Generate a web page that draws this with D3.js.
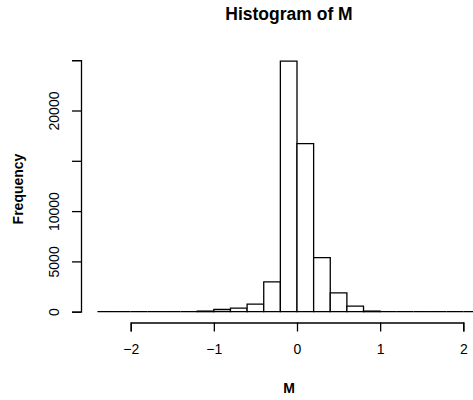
<!DOCTYPE html>
<html>
<head>
<meta charset="utf-8">
<script src="https://cdn.jsdelivr.net/npm/d3@7"></script>
<style>
  html, body { margin: 0; padding: 0; background: #fff; }
  svg { display: block; }
  text { font-family: "Liberation Sans", Arial, Helvetica, sans-serif; fill: #000; }
</style>
</head>
<body>
<svg id="chart" width="473" height="400"></svg>
<script>
// Histogram bin lower edges (width 0.2) and counts
const binStarts = [-2.4,-2.2,-2.0,-1.8,-1.6,-1.4,-1.2,-1.0,-0.8,-0.6,-0.4,-0.2,0.0,0.2,0.4,0.6,0.8,1.0,1.2,1.4,1.6,1.8,2.0];
const binWidth = 0.2;
const counts = [0,0,0,0,0,0,60,220,350,750,2960,24900,16700,5380,1870,550,60,0,0,0,0,0,0];
const xTicks = [-2,-1,0,1,2];
const xTickLabels = ["\u22122","\u22121","0","1","2"];
const yTicks = [0,5000,10000,15000,20000,25000];
const yLabeled = [0,5000,10000,20000];
const title = "Histogram of M";
const xLabel = "M";
const yLabel = "Frequency";

const svg = d3.select("#chart");
const x = d3.scaleLinear().domain([-2, 2]).range([130.7, 463.3]);
const y = d3.scaleLinear().domain([0, 25000]).range([311.7, 60.2]);

// Bars (paths so that empty bins still draw as a baseline segment)
svg.append("g").selectAll("path")
  .data(binStarts.map((s, i) => ({s, c: counts[i]})))
  .join("path")
  .attr("d", d => {
    const x0 = x(d.s), x1 = x(d.s + binWidth), y0 = y(0), y1 = y(d.c);
    return `M${x0},${y0}V${y1}H${x1}V${y0}Z`;
  })
  .attr("fill", "#fff")
  .attr("stroke", "#000")
  .attr("stroke-width", 1.3);

// X axis
const xAxis = d3.axisBottom(x).tickValues(xTicks)
  .tickFormat((d, i) => xTickLabels[i]).tickSizeOuter(0).tickSize(9).tickPadding(13);
const gx = svg.append("g").attr("transform", "translate(0,322.5)").call(xAxis);
gx.select(".domain").attr("stroke", "#000").attr("stroke-width", 1.3);
gx.selectAll(".tick line").attr("stroke", "#000").attr("stroke-width", 1.3);
gx.selectAll(".tick text").style("font-size", "14px").attr("dy", "0.71em");

// Y axis
const yAxis = d3.axisLeft(y).tickValues(yTicks)
  .tickFormat(d => yLabeled.includes(d) ? String(d) : "").tickSizeOuter(0).tickSize(9);
const gy = svg.append("g").attr("transform", "translate(81,0)").call(yAxis);
gy.select(".domain").attr("stroke", "#000").attr("stroke-width", 1.3);
gy.selectAll(".tick line").attr("stroke", "#000").attr("stroke-width", 1.3);
gy.selectAll(".tick text")
  .style("font-size", "14px")
  .attr("x", null).attr("dy", null)
  .attr("text-anchor", "middle")
  .attr("transform", "translate(-22,0) rotate(-90)");

// Title and labels
svg.append("text").attr("x", 289).attr("y", 20).attr("text-anchor", "middle")
  .style("font-size", "17.5px").style("font-weight", "bold").text(title);
svg.append("text").attr("x", 289).attr("y", 393).attr("text-anchor", "middle")
  .style("font-size", "14px").style("font-weight", "bold").text(xLabel);
svg.append("text").attr("transform", "translate(23,189) rotate(-90)").attr("text-anchor", "middle")
  .style("font-size", "14px").style("font-weight", "bold").text(yLabel);
</script>
</body>
</html>
